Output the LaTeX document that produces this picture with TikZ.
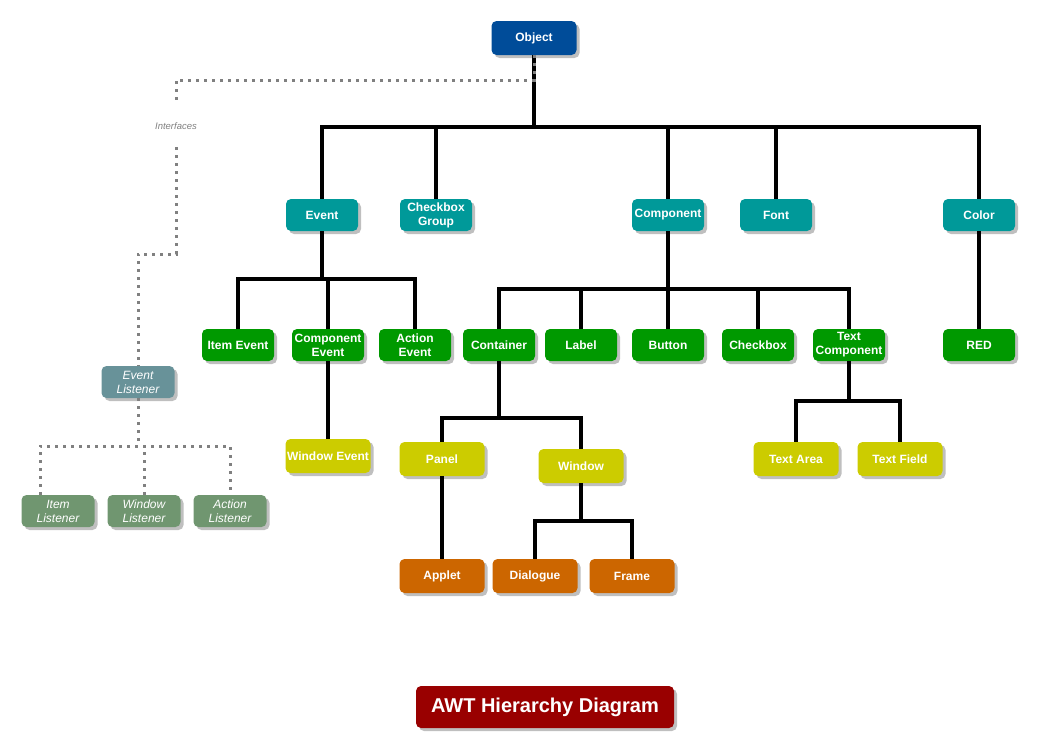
\documentclass[tikz,border=0pt]{standalone}
\usepackage{fontspec}
\setmainfont{Liberation Sans}
\usetikzlibrary{shadows}
\definecolor{cblue}{RGB}{0,76,153}
\definecolor{cteal}{RGB}{0,153,153}
\definecolor{cgreen}{RGB}{0,153,0}
\definecolor{cyellow}{RGB}{204,204,0}
\definecolor{corange}{RGB}{204,102,0}
\definecolor{cred}{RGB}{153,0,0}
\definecolor{clisten}{RGB}{104,146,153}
\definecolor{clistenb}{RGB}{112,150,112}
\definecolor{cdot}{RGB}{128,128,128}
\begin{document}
\begin{tikzpicture}[x=1pt,y=-1pt,
  box/.style={rounded corners=5pt, text=white, align=center,
    font=\fontsize{12}{14}\selectfont\bfseries,
    minimum width=72pt, minimum height=32pt, inner sep=1pt,
    drop shadow={shadow xshift=3pt, shadow yshift=-3pt, fill=black!25, opacity=1}},
  wide/.style={minimum width=85pt, minimum height=34pt},
  lbox/.style={box, font=\fontsize{12}{14}\selectfont\itshape, minimum width=73pt},
  tree/.style={line width=3.5pt, draw=black},
  dots/.style={line width=3pt, draw=cdot, dash pattern=on 3pt off 5pt},
]
\useasboundingbox (0,0) rectangle (1039,755);

% nodes
\node[box, fill=cblue, minimum width=85pt, minimum height=34pt] (obj) at (534,38) {Object};

\node[box, fill=cteal] (ev)   at (322,215) {Event};
\node[box, fill=cteal] (cbg)  at (436,215) {Checkbox\\Group};
\node[box, fill=cteal] (comp) at (668,215) {Component};
\node[box, fill=cteal] (font) at (776,215) {Font};
\node[box, fill=cteal] (col)  at (979,215) {Color};

\node[box, fill=cgreen] (ie) at (238,345) {Item Event};
\node[box, fill=cgreen] (ce) at (328,345) {Component\\Event};
\node[box, fill=cgreen] (ae) at (415,345) {Action\\Event};
\node[box, fill=cgreen] (cont) at (499,345) {Container};
\node[box, fill=cgreen] (lab) at (581,345) {Label};
\node[box, fill=cgreen] (but) at (668,345) {Button};
\node[box, fill=cgreen] (chk) at (758,345) {Checkbox};
\node[box, fill=cgreen] (tc)  at (849,345) {Text\\Component};
\node[box, fill=cgreen] (red) at (979,345) {RED};

\node[box, wide, fill=cyellow] (we)  at (328,456) {Window Event};
\node[box, wide, fill=cyellow] (pan) at (442,459) {Panel};
\node[box, wide, fill=cyellow] (win) at (581,466) {Window};
\node[box, wide, fill=cyellow] (ta)  at (796,459) {Text Area};
\node[box, wide, fill=cyellow] (tf)  at (900,459) {Text Field};

\node[box, wide, fill=corange] (app) at (442,576) {Applet};
\node[box, wide, fill=corange] (dia) at (535,576) {Dialogue};
\node[box, wide, fill=corange] (fra) at (632,576) {Frame};

\node[lbox, fill=clisten]  (el) at (138,382) {Event\\Listener};
\node[lbox, fill=clistenb] (il) at (58,511)  {Item\\Listener};
\node[lbox, fill=clistenb] (wl) at (144,511) {Window\\Listener};
\node[lbox, fill=clistenb] (al) at (230,511) {Action\\Listener};

\node[text=cdot, font=\fontsize{9.5}{11}\selectfont\itshape, minimum height=42pt, inner sep=0pt] (intf) at (176,126) {Interfaces};

\node[box, fill=cred, font=\fontsize{20}{24}\selectfont\bfseries, minimum width=258pt, minimum height=42pt] (title) at (545,707) {AWT Hierarchy Diagram};

% tree connectors
\coordinate (b0) at (534,127);
\draw[tree] (obj.south) -- (b0);
\draw[tree] (ev.north) |- (b0) -| (col.north);
\draw[tree] (cbg.north) -- (cbg.north |- b0);
\draw[tree] (comp.north) -- (comp.north |- b0);
\draw[tree] (font.north) -- (font.north |- b0);

\coordinate (b1) at (322,279);
\draw[tree] (ev.south) -- (b1);
\draw[tree] (ie.north) |- (b1) -| (ae.north);
\draw[tree] (ce.north) -- (ce.north |- b1);
\draw[tree] (ce.south) -- (we.north);

\coordinate (b2) at (668,289);
\draw[tree] (comp.south) -- (b2);
\draw[tree] (cont.north) |- (b2) -| (tc.north);
\draw[tree] (lab.north) -- (lab.north |- b2);
\draw[tree] (but.north) -- (but.north |- b2);
\draw[tree] (chk.north) -- (chk.north |- b2);

\draw[tree] (col.south) -- (red.north);

\coordinate (b3) at (499,418);
\draw[tree] (cont.south) -- (b3);
\draw[tree] (pan.north) |- (b3) -| (win.north);
\draw[tree] (pan.south) -- (app.north);

\coordinate (b4) at (581,521);
\draw[tree] (win.south) -- (b4);
\draw[tree] (dia.north) |- (b4) -| (fra.north);

\coordinate (b5) at (849,401);
\draw[tree] (tc.south) -- (b5);
\draw[tree] (ta.north) |- (b5) -| (tf.north);

% interface connectors
\coordinate (d1) at (534,80);
\draw[dots] (obj.south) -- (d1) -| (intf.north);
\coordinate (d5) at (176,254);
\draw[dots] (intf.south) -- (d5) -| (el.north);
\coordinate (d7) at (138,446);
\coordinate (d8) at (40,446);
\coordinate (d9) at (230,446);
\draw[dots] (el.south) -- (d7);
\draw[dots] (d8 |- il.north) -- (d8) -- (d9) -- (al.north);
\draw[dots] (wl.north) -- (wl.north |- d7);
\end{tikzpicture}
\end{document}
